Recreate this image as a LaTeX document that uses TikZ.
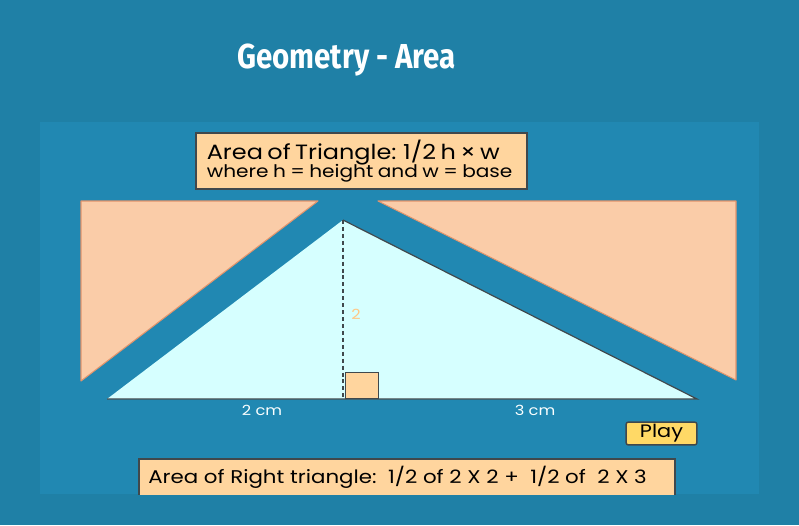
\documentclass[tikz,border=0pt]{standalone}
\usepackage{fontspec}
\usepackage{graphicx}
\setmainfont{Poppins}[FakeStretch=1.16]
\newfontfamily\titlefont{Fira Sans}
\usetikzlibrary{positioning}
\definecolor{outerbg}{RGB}{31,128,166}
\definecolor{panelbg}{RGB}{33,136,178}
\definecolor{peach}{RGB}{250,204,168}
\definecolor{peachedge}{RGB}{226,148,108}
\definecolor{skycyan}{RGB}{214,255,255}
\definecolor{boxfill}{RGB}{255,213,158}
\definecolor{playfill}{RGB}{255,217,102}
\definecolor{edgegrey}{RGB}{64,72,76}
\tikzset{
    infobox/.style={
        rectangle,
        draw=edgegrey,
        line width=1.4pt,
        fill=boxfill,
        inner sep=0pt
    },
    corner/.style={
        fill=peach,
        draw=peachedge,
        line width=0.8pt,
        line join=round
    },
    sizelabel/.style={
        text=white!90!skycyan,
        font=\fontsize{10.5}{12}\selectfont,
        inner sep=0pt
    },
    heightline/.style={
        draw=edgegrey,
        line width=1.1pt,
        dash pattern=on 3pt off 2.2pt
    },
    rightmark/.style={
        rectangle,
        draw=edgegrey,
        fill=boxfill,
        line width=1.1pt,
        minimum width=24.5pt,
        minimum height=19.5pt,
        inner sep=0pt
    },
    playbtn/.style={
        rectangle,
        rounded corners=1.5pt,
        draw=edgegrey,
        fill=playfill,
        line width=1.1pt,
        minimum width=53pt,
        minimum height=17pt,
        inner sep=0pt,
        font=\fontsize{13.5}{15}\selectfont
    }
}

\begin{document}
\begin{tikzpicture}[x=0.75pt, y=-0.75pt]
        % Background and panel
        \useasboundingbox (0,0) rectangle (799,525);
        \fill[outerbg] (0,0) rectangle (799,525);
        \fill[panelbg] (40,122) rectangle (759,494);

        % Title
        \node (title) [text=white, inner sep=0pt, anchor=base] at (346.5,68) {\scalebox{0.85}[1]{\titlefont\bfseries\fontsize{26}{27}\selectfont Geometry - Area}};

        % Corner triangles
        \draw[corner] (81,201) -- (318,201) -- (81,381) -- cycle;
        \draw[corner] (378,201) -- (736,201) -- (736,380) -- cycle;

        % Main triangle
        \coordinate (apex) at (343,220);
        \coordinate (baseL) at (107,399);
        \coordinate (baseR) at (697,399);
        \coordinate (foot) at (343,399);
        \fill[skycyan] (baseL) -- (apex) -- (baseR) -- cycle;
        \draw[edgegrey, line width=0.9pt] (apex) -- (baseR) -- (baseL);

        % Right angle and height
        \node (rightangle) [rightmark, anchor=south west] at (345,399) {};
        \draw[heightline] (apex) -- (foot);
        \node (hlabel) [text=boxfill!85!orange, font=\fontsize{10.5}{11}\selectfont, inner sep=0pt] at (356,314) {2};

        % Base labels
        \node (leftbase) [sizelabel] at (262,410) {2 cm};
        \node (rightbase) [sizelabel] at (535,410) {3 cm};

        % Formula box
        \node (formula) [infobox, text width=232pt, align=left, inner xsep=8.2pt, minimum height=42pt] at (361.5,161)
            {{\fontsize{15.5}{17}\selectfont Area of Triangle: 1/2 h \texttimes{} w}\\[-1pt]
             {\fontsize{13}{15}\selectfont where h = height and w = base}};

        % Play button
        \node (play) [playbtn] at (661.5,433.5) {Play};

        % Right triangle box, cut by the panel
        \begin{scope}
            \clip (40,122) rectangle (759,494);
            \node (rightbox) [infobox, anchor=north west, minimum width=402pt, minimum height=45pt] at (138,458) {};
            \node (righttext) [anchor=west, inner sep=0pt, font=\fontsize{13.8}{15}\selectfont] at (148,477)
                {Area of Right triangle:\ \ 1/2 of 2 X 2 +\ \ 1/2 of\ \ 2 X 3};
        \end{scope}
\end{tikzpicture}
\end{document}
